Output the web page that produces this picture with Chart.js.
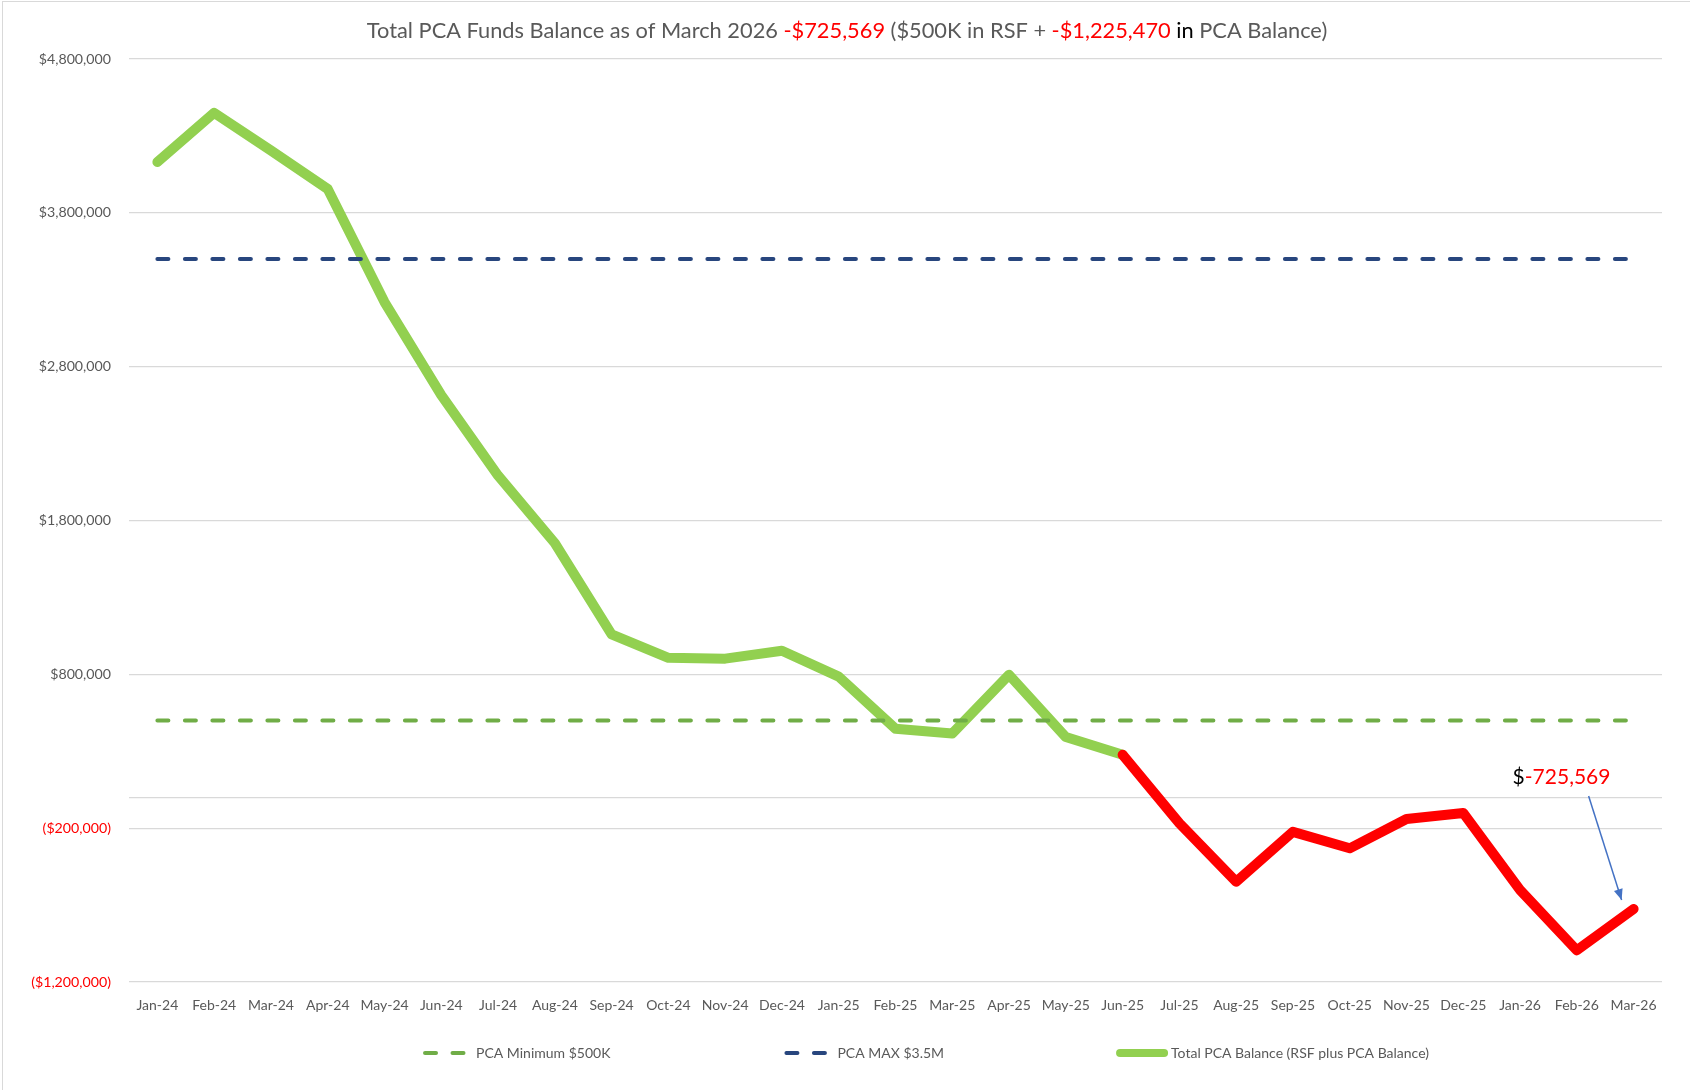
<!DOCTYPE html>
<html>
<head>
<meta charset="utf-8">
<title>Total PCA Funds Balance</title>
<script src="https://cdn.jsdelivr.net/npm/chart.js@4.4.1/dist/chart.umd.min.js"></script>
<style>
  html, body { margin: 0; padding: 0; background: #fff; overflow: hidden; }
  #wrap { position: relative; width: 1690px; height: 1090px; }
  #frame { position: absolute; left: 2px; top: 1px; right: -10px; bottom: -10px; border: 1px solid #d9d9d9; pointer-events: none; }
</style>
</head>
<body>
<div id="wrap">
  <canvas id="pcaChart"></canvas>
  <div id="frame"></div>
</div>
<script>
var months = ['Jan-24', 'Feb-24', 'Mar-24', 'Apr-24', 'May-24', 'Jun-24', 'Jul-24', 'Aug-24', 'Sep-24',
    'Oct-24', 'Nov-24', 'Dec-24', 'Jan-25', 'Feb-25', 'Mar-25', 'Apr-25', 'May-25', 'Jun-25',
    'Jul-25', 'Aug-25', 'Sep-25', 'Oct-25', 'Nov-25', 'Dec-25', 'Jan-26', 'Feb-26', 'Mar-26'];

var totalBalance = [4130000, 4450000, 4205000, 3955000, 3220000, 2615000, 2092000, 1653000, 1060000,
    907000, 902000, 953000, 785000, 446000, 416000, 797000, 392000, 277000,
    -168000, -548000, -224000, -331000, -140000, -102000, -602000, -994000, -725569];

var pcaMinimum = [500000, 500000, 500000, 500000, 500000, 500000, 500000, 500000, 500000,
    500000, 500000, 500000, 500000, 500000, 500000, 500000, 500000, 500000,
    500000, 500000, 500000, 500000, 500000, 500000, 500000, 500000, 500000];

var pcaMax = [3500000, 3500000, 3500000, 3500000, 3500000, 3500000, 3500000, 3500000, 3500000,
    3500000, 3500000, 3500000, 3500000, 3500000, 3500000, 3500000, 3500000, 3500000,
    3500000, 3500000, 3500000, 3500000, 3500000, 3500000, 3500000, 3500000, 3500000];

// tick at 0 carries no label, it is the category axis line
var yTickValues = [-1200000, -200000, 0, 800000, 1800000, 2800000, 3800000, 4800000];

var balanceAsOf = -725569;
var pcaBalance = -1225470;

var FONT = 'Lato';
var GRAY = '#595959';
var RED = '#FF0000';
var GREEN = '#92D050';

function signedMoney(v) {
    return (v < 0 ? '-$' : '$') + Math.abs(v).toLocaleString('en-US');
}

var titleParts = [
    { text: 'Total PCA Funds Balance as of March 2026 ', color: GRAY },
    { text: signedMoney(balanceAsOf), color: RED },
    { text: ' ($500K in RSF + ', color: GRAY },
    { text: signedMoney(pcaBalance), color: RED },
    { text: ' in ', color: '#000000' },
    { text: 'PCA Balance)', color: GRAY }
];

// multi coloured title line
var titleLine = {
    id: 'titleLine',
    afterDraw: function (chart) {
        var ctx = chart.ctx;
        ctx.save();
        ctx.font = '21.8px ' + FONT;
        ctx.textBaseline = 'middle';
        var total = 0;
        titleParts.forEach(function (p) { total += ctx.measureText(p.text).width; });
        var x = chart.width / 2 - total / 2 + 2;
        titleParts.forEach(function (p) {
            ctx.fillStyle = p.color;
            ctx.fillText(p.text, x, 31);
            x += ctx.measureText(p.text).width;
        });
        ctx.restore();
    }
};

// label + arrow pointing at the last balance
var callout = {
    id: 'callout',
    afterDatasetsDraw: function (chart) {
        var meta = chart.getDatasetMeta(2);
        var last = meta.data[meta.data.length - 1];
        var ctx = chart.ctx;
        var x0 = last.x - 45, y0 = last.y - 113;
        var x1 = last.x - 12, y1 = last.y - 9;
        ctx.save();
        ctx.strokeStyle = '#4472C4';
        ctx.fillStyle = '#4472C4';
        ctx.lineWidth = 1.5;
        ctx.beginPath();
        ctx.moveTo(x0, y0);
        ctx.lineTo(x1, y1);
        ctx.stroke();
        var ang = Math.atan2(y1 - y0, x1 - x0);
        ctx.beginPath();
        ctx.moveTo(x1, y1);
        ctx.lineTo(x1 - 11 * Math.cos(ang) + 4.5 * Math.sin(ang), y1 - 11 * Math.sin(ang) - 4.5 * Math.cos(ang));
        ctx.lineTo(x1 - 11 * Math.cos(ang) - 4.5 * Math.sin(ang), y1 - 11 * Math.sin(ang) + 4.5 * Math.cos(ang));
        ctx.closePath();
        ctx.fill();

        ctx.font = '21px ' + FONT;
        ctx.textBaseline = 'middle';
        var tx = last.x - 121, ty = last.y - 132;
        ctx.fillStyle = '#000000';
        ctx.fillText('$', tx, ty);
        tx += ctx.measureText('$').width;
        ctx.fillStyle = RED;
        ctx.fillText(balanceAsOf.toLocaleString('en-US'), tx, ty);
        ctx.restore();
    }
};

// wide gaps between legend entries without giving the legend a tall box
var legendPlacement = {
    id: 'legendPlacement',
    afterUpdate: function (chart) {
        var lg = chart.legend;
        var pad = lg.options.labels.padding;
        lg.top -= pad - 32;
        lg.left += 96;
        lg.right += 96;
    }
};

var ctx = document.getElementById('pcaChart');
var pcaChart = new Chart(ctx, {
    type: 'line',
    data: {
        labels: months,
        datasets: [{
            label: 'PCA Minimum $500K',
            data: pcaMinimum,
            borderColor: '#70AD47',
            backgroundColor: '#70AD47',
            borderWidth: 4,
            borderDash: [11, 16.5],
            borderCapStyle: 'round'
        }, {
            label: 'PCA MAX $3.5M',
            data: pcaMax,
            borderColor: '#28467E',
            backgroundColor: '#28467E',
            borderWidth: 4,
            borderDash: [11, 16.5],
            borderCapStyle: 'round'
        }, {
            label: 'Total PCA Balance (RSF plus PCA Balance)',
            data: totalBalance,
            borderColor: GREEN,
            backgroundColor: GREEN,
            borderWidth: 10,
            borderCapStyle: 'round',
            borderJoinStyle: 'round',
            segment: {
                borderColor: function (c) { return c.p1.parsed.y < 0 ? RED : GREEN; }
            }
        }]
    },
    options: {
        responsive: true,
        maintainAspectRatio: false,
        animation: false,
        layout: { padding: { top: 59, left: 0, right: 28, bottom: 26 } },
        elements: {
            point: { radius: 0, hoverRadius: 0 },
            line: { tension: 0, fill: false }
        },
        scales: {
            x: {
                offset: true,
                grid: { display: false, drawTicks: false },
                border: { display: false },
                ticks: {
                    color: GRAY,
                    font: { family: FONT, size: 14 },
                    padding: 15,
                    autoSkip: false,
                    maxRotation: 0
                },
                afterFit: function (s) { s.height = 32; }
            },
            y: {
                min: -1200000,
                max: 4800000,
                grid: { color: '#d9d9d9', lineWidth: 1.2, drawTicks: false },
                border: { display: false },
                afterBuildTicks: function (s) {
                    s.ticks = yTickValues.map(function (v) { return { value: v }; });
                },
                ticks: {
                    padding: 18,
                    font: { family: FONT, size: 14.2 },
                    color: function (c) { return c.tick.value < 0 ? RED : GRAY; },
                    callback: function (v) {
                        if (v === 0) return '';
                        var s = '$' + Math.abs(v).toLocaleString('en-US');
                        return v < 0 ? '(' + s + ')' : s;
                    }
                },
                afterFit: function (s) { s.width = 129; }
            }
        },
        plugins: {
            title: { display: false },
            tooltip: { enabled: false },
            legend: {
                position: 'bottom',
                maxHeight: 50,
                labels: {
                    usePointStyle: true,
                    pointStyle: 'line',
                    pointStyleWidth: 44,
                    padding: 176,
                    color: GRAY,
                    font: { family: FONT, size: 14 },
                    generateLabels: function (chart) {
                        var items = Chart.defaults.plugins.legend.labels.generateLabels(chart);
                        items.forEach(function (item) {
                            var ds = chart.data.datasets[item.datasetIndex];
                            item.lineDash = ds.borderDash || [];
                            item.lineCap = 'round';
                            item.lineWidth = ds.borderDash ? ds.borderWidth : 8;
                        });
                        return items;
                    }
                }
            }
        }
    },
    plugins: [legendPlacement, titleLine, callout]
});
</script>
</body>
</html>
